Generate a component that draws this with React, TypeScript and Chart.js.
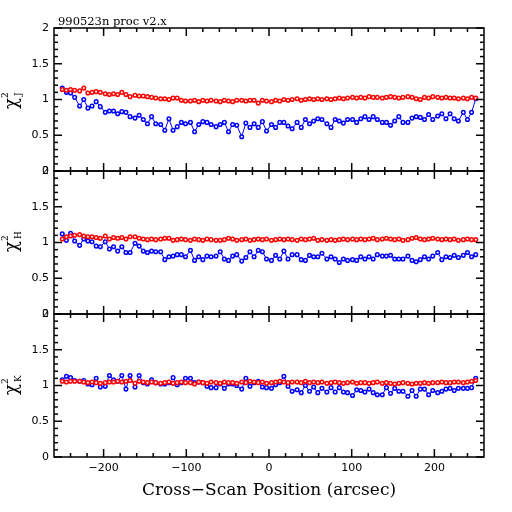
import { useEffect, useRef } from "react";
import { Chart, registerables, type Plugin } from "chart.js";

Chart.register(...registerables);

// scan positions (arcsec)
const SCAN_POS = [
  -250, -245, -240, -235, -229, -224, -219, -214, -209, -204,
  -198, -193, -188, -183, -178, -173, -168, -162, -157, -152,
  -147, -142, -137, -131, -126, -121, -116, -111, -106, -101,
  -95, -90, -85, -80, -75, -70, -64, -59, -54, -49,
  -44, -39, -33, -28, -23, -18, -13, -8, -3, 3,
  8, 13, 18, 23, 28, 34, 39, 44, 49, 54,
  59, 64, 70, 75, 80, 85, 90, 95, 101, 106,
  111, 116, 121, 126, 131, 137, 142, 147, 152, 157,
  162, 168, 173, 178, 183, 188, 193, 198, 204, 209,
  214, 219, 224, 229, 235, 240, 245, 250,
];

const RED_J = [
  1.14, 1.13, 1.14, 1.13, 1.12, 1.16, 1.09, 1.10, 1.11, 1.10,
  1.08, 1.07, 1.08, 1.07, 1.10, 1.07, 1.04, 1.06, 1.05, 1.05,
  1.04, 1.03, 1.02, 1.01, 1.01, 1.00, 1.02, 1.02, 0.99, 0.98,
  0.98, 0.99, 0.97, 0.99, 0.98, 0.99, 0.98, 0.97, 0.99, 0.98,
  0.97, 0.99, 0.99, 0.98, 0.99, 0.99, 0.95, 0.99, 0.98, 0.97,
  0.99, 0.98, 1.00, 0.99, 1.00, 1.01, 0.99, 1.00, 1.01, 1.00,
  1.01, 1.00, 1.01, 1.00, 1.01, 1.02, 1.01, 1.02, 1.03, 1.02,
  1.03, 1.02, 1.04, 1.03, 1.03, 1.02, 1.03, 1.04, 1.03, 1.02,
  1.03, 1.04, 1.03, 1.01, 1.00, 1.03, 1.02, 1.04, 1.03, 1.02,
  1.03, 1.02, 1.02, 1.01, 1.02, 1.01, 1.03, 1.02,
];

const BLUE_J = [
  1.16, 1.10, 1.09, 1.03, 0.91, 1.00, 0.88, 0.91, 0.97, 0.90,
  0.82, 0.84, 0.84, 0.80, 0.83, 0.82, 0.76, 0.74, 0.78, 0.72,
  0.66, 0.76, 0.66, 0.65, 0.57, 0.73, 0.57, 0.62, 0.68, 0.66,
  0.68, 0.55, 0.65, 0.69, 0.68, 0.65, 0.62, 0.65, 0.68, 0.55,
  0.65, 0.64, 0.48, 0.67, 0.61, 0.66, 0.61, 0.69, 0.56, 0.65,
  0.61, 0.68, 0.68, 0.63, 0.59, 0.68, 0.61, 0.72, 0.66, 0.70,
  0.73, 0.72, 0.66, 0.61, 0.72, 0.70, 0.67, 0.72, 0.72, 0.68,
  0.73, 0.76, 0.72, 0.76, 0.72, 0.68, 0.68, 0.64, 0.70, 0.76,
  0.68, 0.68, 0.74, 0.76, 0.75, 0.72, 0.79, 0.72, 0.77, 0.80,
  0.73, 0.80, 0.73, 0.70, 0.82, 0.72, 0.82, 1.01,
];

const RED_H = [
  1.05, 1.08, 1.09, 1.10, 1.11, 1.09, 1.08, 1.08, 1.07, 1.06,
  1.09, 1.05, 1.07, 1.06, 1.07, 1.05, 1.08, 1.08, 1.06, 1.05,
  1.04, 1.05, 1.04, 1.05, 1.06, 1.06, 1.03, 1.04, 1.05, 1.04,
  1.03, 1.05, 1.04, 1.03, 1.05, 1.04, 1.03, 1.03, 1.04, 1.06,
  1.05, 1.03, 1.04, 1.05, 1.03, 1.04, 1.05, 1.04, 1.05, 1.03,
  1.04, 1.05, 1.04, 1.05, 1.04, 1.03, 1.05, 1.04, 1.05, 1.06,
  1.03, 1.04, 1.03, 1.04, 1.03, 1.04, 1.05, 1.04, 1.05, 1.04,
  1.05, 1.04, 1.05, 1.06, 1.04, 1.05, 1.06, 1.05, 1.04, 1.05,
  1.03, 1.04, 1.06, 1.07, 1.05, 1.04, 1.05, 1.06, 1.05, 1.04,
  1.05, 1.04, 1.05, 1.03, 1.04, 1.05, 1.04, 1.04,
];

const BLUE_H = [
  1.12, 1.03, 1.13, 1.02, 0.96, 1.05, 1.02, 1.01, 0.95, 0.94,
  1.01, 0.91, 0.94, 0.88, 0.94, 0.86, 0.86, 0.99, 0.95, 0.88,
  0.86, 0.88, 0.87, 0.87, 0.76, 0.80, 0.81, 0.83, 0.83, 0.80,
  0.89, 0.75, 0.80, 0.76, 0.81, 0.80, 0.81, 0.87, 0.77, 0.75,
  0.81, 0.83, 0.74, 0.79, 0.87, 0.80, 0.89, 0.87, 0.77, 0.75,
  0.82, 0.77, 0.88, 0.77, 0.83, 0.83, 0.76, 0.75, 0.82, 0.80,
  0.80, 0.85, 0.77, 0.80, 0.77, 0.72, 0.77, 0.75, 0.76, 0.75,
  0.80, 0.77, 0.80, 0.77, 0.83, 0.81, 0.81, 0.82, 0.77, 0.77,
  0.77, 0.81, 0.75, 0.73, 0.76, 0.80, 0.77, 0.81, 0.86, 0.76,
  0.80, 0.79, 0.82, 0.79, 0.82, 0.86, 0.80, 0.83,
];

const RED_K = [
  1.06, 1.05, 1.06, 1.06, 1.06, 1.05, 1.04, 1.05, 1.04, 1.03,
  1.04, 1.05, 1.05, 1.06, 1.05, 1.06, 1.07, 1.03, 1.06, 1.05,
  1.04, 1.05, 1.04, 1.03, 1.04, 1.05, 1.03, 1.04, 1.05, 1.04,
  1.04, 1.02, 1.05, 1.04, 1.03, 1.05, 1.04, 1.03, 1.05, 1.04,
  1.04, 1.03, 1.05, 1.04, 1.06, 1.05, 1.04, 1.05, 1.03, 1.04,
  1.05, 1.06, 1.05, 1.04, 1.05, 1.05, 1.04, 1.06, 1.04, 1.05,
  1.04, 1.05, 1.03, 1.04, 1.05, 1.04, 1.03, 1.04, 1.05, 1.03,
  1.04, 1.04, 1.03, 1.04, 1.05, 1.03, 1.04, 1.03, 1.02, 1.03,
  1.04, 1.03, 1.02, 1.03, 1.03, 1.04, 1.03, 1.04, 1.04, 1.05,
  1.04, 1.04, 1.05, 1.05, 1.04, 1.05, 1.06, 1.07,
];

const BLUE_K = [
  1.08, 1.13, 1.11, 1.07, 1.06, 1.07, 1.02, 1.01, 1.10, 0.98,
  0.99, 1.14, 1.08, 1.06, 1.14, 0.95, 1.14, 0.98, 1.14, 1.04,
  1.02, 1.08, 1.04, 1.02, 1.02, 1.04, 1.11, 1.01, 1.04, 1.10,
  1.10, 1.04, 1.05, 1.04, 0.99, 0.97, 0.97, 1.02, 0.96, 1.02,
  1.02, 1.00, 0.95, 1.10, 0.99, 1.04, 1.06, 0.98, 0.97, 0.96,
  1.01, 1.04, 1.13, 0.99, 0.92, 0.94, 0.90, 1.00, 0.92, 0.98,
  0.90, 0.96, 0.91, 0.97, 0.91, 0.97, 0.91, 0.90, 0.86, 0.94,
  0.93, 0.91, 0.95, 0.90, 0.87, 0.87, 0.97, 0.89, 0.96, 0.92,
  0.92, 0.85, 0.93, 0.85, 0.95, 0.95, 0.87, 0.93, 0.90, 0.92,
  0.95, 0.96, 0.93, 0.96, 0.96, 0.96, 0.97, 1.10,
];

// top to bottom
const BANDS = ["J", "H", "K"];
const PANEL_IDS = ["yJ", "yH", "yK"];
const PANEL_RED = [RED_J, RED_H, RED_K];
const PANEL_BLUE = [BLUE_J, BLUE_H, BLUE_K];

const X_MAJOR = [-200, -100, 0, 100, 200];
const X_MINOR = [
  -240, -220, -180, -160, -140, -120, -80, -60, -40, -20,
  20, 40, 60, 80, 120, 140, 160, 180, 220, 240,
];
const Y_MAJOR = [0, 0.5, 1, 1.5, 2];
const Y_MINOR = [0.1, 0.2, 0.3, 0.4, 0.6, 0.7, 0.8, 0.9, 1.1, 1.2, 1.3, 1.4, 1.6, 1.7, 1.8, 1.9];

const TITLE = "990523n proc v2.x";
const X_TITLE = "Cross\u2212Scan Position (arcsec)";

const RED = "#ff0000";
const BLUE = "#0000ff";

const toPoints = (vals: number[]) => vals.map((y, i) => ({ x: SCAN_POS[i], y }));

const framePlugin: Plugin = {
  id: "pgframe",
  afterDraw(chart) {
    const { ctx, chartArea } = chart;
    const { left, right } = chartArea;
    const xs = chart.scales.x;
    ctx.save();
    ctx.strokeStyle = "#000";
    ctx.fillStyle = "#000";

    const line = (x1: number, y1: number, x2: number, y2: number) => {
      ctx.beginPath();
      ctx.moveTo(x1, y1);
      ctx.lineTo(x2, y2);
      ctx.stroke();
    };

    PANEL_IDS.forEach((id, i) => {
      const ys = chart.scales[id];
      const top = ys.top;
      const bottom = ys.bottom;

      ctx.lineWidth = 1.5;
      ctx.strokeRect(left, top, right - left, bottom - top);

      X_MINOR.forEach((v) => {
        const px = xs.getPixelForValue(v);
        line(px, bottom, px, bottom - 4);
        line(px, top, px, top + 4);
      });
      X_MAJOR.forEach((v) => {
        const px = xs.getPixelForValue(v);
        line(px, bottom, px, bottom - 8);
        line(px, top, px, top + 8);
      });
      Y_MINOR.forEach((v) => {
        const py = ys.getPixelForValue(v);
        line(left, py, left + 4, py);
        line(right, py, right - 4, py);
      });
      Y_MAJOR.forEach((v) => {
        const py = ys.getPixelForValue(v);
        line(left, py, left + 8, py);
        line(right, py, right - 8, py);
      });

      // chi^2 label with band subscript
      const cy = (top + bottom) / 2;
      ctx.save();
      ctx.translate(17, cy);
      ctx.rotate(-Math.PI / 2);
      ctx.textBaseline = "alphabetic";
      ctx.textAlign = "left";
      ctx.font = "18px 'DejaVu Serif'";
      const chiW = ctx.measureText("\u03c7").width;
      const x0 = -(chiW + 8) / 2;
      ctx.fillText("\u03c7", x0, 0);
      ctx.font = "9px 'DejaVu Serif'";
      ctx.fillText("2", x0 + chiW, -9);
      ctx.fillText(BANDS[i], x0 + chiW + 2, 4);
      ctx.restore();
    });

    ctx.font = "11.5px 'DejaVu Serif'";
    ctx.textBaseline = "alphabetic";
    ctx.textAlign = "left";
    ctx.fillText(TITLE, left + 4, 25);
    ctx.restore();
  },
};

export default function App() {
  const canvasRef = useRef<HTMLCanvasElement>(null);
  const chartRef = useRef<Chart | null>(null);

  useEffect(() => {
    const ctx = canvasRef.current?.getContext("2d");
    if (!ctx) return;
    chartRef.current?.destroy();

    const datasets: any[] = [];
    PANEL_IDS.forEach((id, i) => {
      datasets.push({
        label: "red " + BANDS[i],
        data: toPoints(PANEL_RED[i]),
        yAxisID: id,
        borderColor: RED,
        borderWidth: 1,
        pointRadius: 1.8,
        pointBorderWidth: 1.5,
        pointBackgroundColor: "#ffffff",
        pointBorderColor: RED,
        order: 0,
      });
      datasets.push({
        label: "blue " + BANDS[i],
        data: toPoints(PANEL_BLUE[i]),
        yAxisID: id,
        borderColor: BLUE,
        borderWidth: 1,
        pointRadius: 1.8,
        pointBorderWidth: 1.5,
        pointBackgroundColor: "#ffffff",
        pointBorderColor: BLUE,
        order: 1,
      });
    });

    const yAxis = () => ({
      type: "linear",
      position: "left",
      stack: "panels",
      stackWeight: 1,
      offset: false,
      min: 0,
      max: 2,
      grid: { display: false, drawTicks: false },
      border: { display: false },
      afterBuildTicks: (scale: any) => {
        scale.ticks = Y_MAJOR.map((v) => ({ value: v }));
      },
      afterFit: (scale: any) => {
        scale.width = 54;
      },
      ticks: {
        color: "#000",
        padding: 5,
        font: { family: "'DejaVu Sans'", size: 11 },
        callback: (v: any) => String(v),
      },
    });

    const scales: any = {
      x: {
        type: "linear",
        position: "bottom",
        min: -260,
        max: 260,
        grid: { display: false, drawTicks: false },
        border: { display: false },
        afterBuildTicks: (scale: any) => {
          scale.ticks = X_MAJOR.map((v) => ({ value: v }));
        },
        afterFit: (scale: any) => {
          scale.height = 55;
        },
        ticks: {
          color: "#000",
          padding: 5,
          maxRotation: 0,
          autoSkip: false,
          font: { family: "'DejaVu Sans'", size: 11 },
          callback: (v: any) => (v < 0 ? "\u2212" + Math.abs(v) : String(v)),
        },
        title: {
          display: true,
          text: X_TITLE,
          color: "#000",
          font: { family: "'DejaVu Serif'", size: 17 },
          padding: { top: 0, bottom: 11 },
        },
      },
    };
    // stacked axes are laid out bottom-up, so register the lowest panel first
    [...PANEL_IDS].reverse().forEach((id) => {
      scales[id] = yAxis();
    });

    chartRef.current = new Chart(ctx, {
      type: "line",
      data: { datasets },
      options: {
        responsive: false,
        animation: false,
        devicePixelRatio: 1,
        layout: { padding: { left: 0, right: 28, top: 28, bottom: 0 } },
        plugins: { legend: { display: false }, tooltip: { enabled: false }, title: { display: false } },
        scales,
      },
      plugins: [framePlugin],
    });
    return () => chartRef.current?.destroy();
  }, []);

  return (
    <div style={{ position: "fixed", left: 0, top: 0, width: 512, height: 512, background: "#fff" }}>
      <canvas ref={canvasRef} width={512} height={512} />
    </div>
  );
}
